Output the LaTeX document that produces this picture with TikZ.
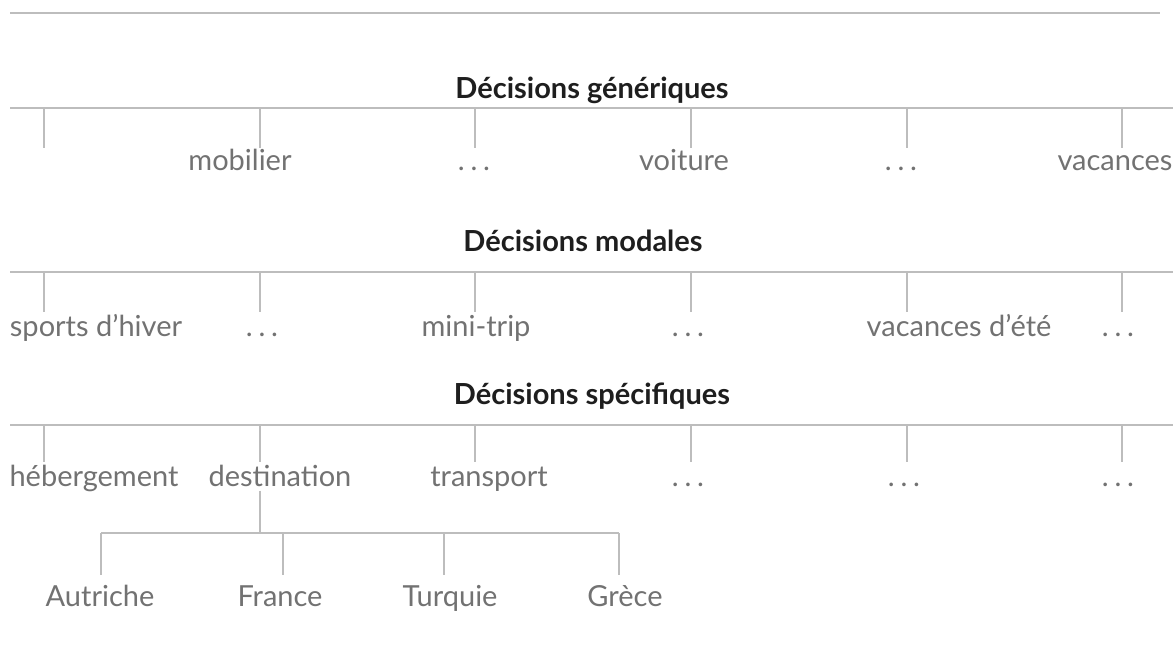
\documentclass[tikz,border=0pt]{standalone}
\usepackage{fontspec}
\setmainfont{Lato}
\usetikzlibrary{positioning, calc}
\definecolor{linegray}{HTML}{BDBDBD}
\definecolor{labelgray}{HTML}{727272}
\definecolor{titlegray}{HTML}{1E1E1E}
\newcommand{\pts}{.\kern0.2em.\kern0.2em.}

\begin{document}
\begin{tikzpicture}[
    x=0.02cm, y=-0.02cm,
    every node/.style={font=\fontsize{16.5}{19}\selectfont, text=labelgray,
                       inner sep=0pt, anchor=base},
    title/.style={font=\fontsize{16.5}{19}\selectfont\bfseries, text=titlegray},
    bar/.style={draw=linegray, line width=1.1pt},
    tick/.style={draw=linegray, line width=0.8pt}
]
    \useasboundingbox (0,0) rectangle (1173,659);
    \draw[bar] (10,13) -- (1160,13);

    % décisions génériques
    \node[title] (gen) at (592,98) {Décisions génériques};
    \draw[bar] (10,108) -- (1173,108);
    \foreach \x [count=\i] in {44,260,475,691,907,1122}
        \draw[tick] (\x,108) coordinate (g\i) -- ++(0,40);
    \node (mob) at (240,170) {mobilier};
    \node (gd1) at (474,170) {\pts};
    \node (voi) at (684,170) {voiture};
    \node (gd2) at (901,170) {\pts};
    \node (vac) at (1115,170) {vacances};

    % décisions modales
    \node[title] (mod) at (583,251) {Décisions modales};
    \draw[bar] (10,272) -- (1173,272);
    \foreach \x [count=\i] in {44,260,475,691,907,1122}
        \draw[tick] (\x,272) coordinate (m\i) -- ++(0,40);
    \node (spo) at (96,336) {sports d'hiver};
    \node (md1) at (262,336) {\pts};
    \node (min) at (476,336) {mini-trip};
    \node (md2) at (688,336) {\pts};
    \node (ete) at (959,336) {vacances d'été};
    \node (md3) at (1118,336) {\pts};

    % décisions spécifiques
    \node[title] (spe) at (592,404) {Décisions spécifiques};
    \draw[bar] (10,425) -- (1173,425);
    \foreach \x [count=\i] in {44,260,475,691,907,1122}
        \draw[tick] (\x,425) coordinate (s\i) -- ++(0,37);
    \node (heb) at (94,486) {hébergement};
    \node (des) at (280,486) {destination};
    \node (tra) at (489,486) {transport};
    \node (sd1) at (688,486) {\pts};
    \node (sd2) at (904,486) {\pts};
    \node (sd3) at (1118,486) {\pts};

    % destinations
    \coordinate (dst) at (260,533);
    \draw[tick] (s2 |- des.south) ++(0,4) -- (dst);
    \draw[tick] (101,533) -- (619,533);
    \foreach \x [count=\i] in {101,283,444,619}
        \draw[tick] (\x,533) coordinate (d\i) -- ++(0,42);
    \node (aut) at (100,606) {Autriche};
    \node (fra) at (280,606) {France};
    \node (tur) at (450,606) {Turquie};
    \node (gre) at (625,606) {Grèce};
\end{tikzpicture}
\end{document}
